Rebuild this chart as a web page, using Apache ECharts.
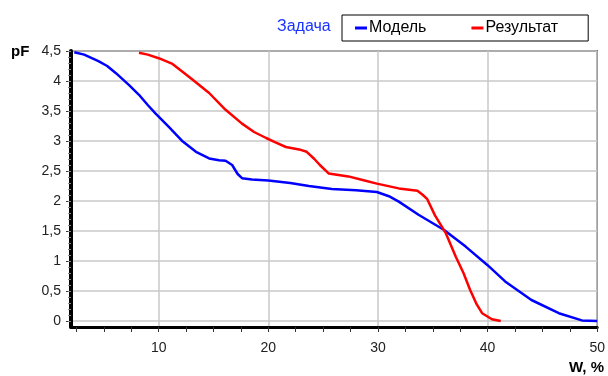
<!DOCTYPE html>
<html>
<head>
<meta charset="utf-8">
<script src="https://cdn.jsdelivr.net/npm/echarts@6/dist/echarts.min.js"></script>
<style>
  html, body { margin: 0; padding: 0; background: #fff; }
  #chart { width: 608px; height: 376px; }
</style>
</head>
<body>
<div id="chart"></div>
<script>
// data
const modelW = [2.3, 3.2, 4.5, 5.3, 6.1, 7.3, 8.2, 9.0, 9.7, 10.9, 12.2, 13.4, 14.6, 15.5, 16.1, 16.7, 17.2, 17.6, 18.5, 20.0, 22.0, 23.7, 25.8, 28.0, 29.9, 31.0, 31.9, 33.7, 36.0, 38.0, 40.0, 41.6, 44.0, 46.5, 48.6, 50.0];
const modelPF = [4.48, 4.44, 4.33, 4.25, 4.13, 3.93, 3.77, 3.6, 3.46, 3.24, 2.99, 2.82, 2.71, 2.68, 2.67, 2.6, 2.45, 2.38, 2.36, 2.34, 2.3, 2.25, 2.2, 2.18, 2.15, 2.08, 1.99, 1.77, 1.52, 1.24, 0.93, 0.66, 0.35, 0.13, 0.01, 0.0];
const resultW = [8.2, 9.0, 10.0, 11.2, 12.2, 13.1, 14.6, 16.1, 17.6, 18.7, 19.8, 20.6, 21.6, 22.8, 23.5, 24.2, 24.7, 25.5, 27.3, 28.6, 29.9, 31.9, 33.6, 34.1, 34.5, 35.2, 36.2, 37.1, 37.8, 38.4, 39.0, 39.5, 40.4, 41.2];
const resultPF = [4.47, 4.44, 4.38, 4.29, 4.15, 4.02, 3.8, 3.52, 3.29, 3.15, 3.05, 2.98, 2.9, 2.86, 2.82, 2.7, 2.6, 2.46, 2.41, 2.35, 2.29, 2.21, 2.17, 2.1, 2.03, 1.76, 1.46, 1.07, 0.8, 0.52, 0.28, 0.13, 0.03, 0.0];

const xLabels = [10, 20, 30, 40, 50];
const xTicks = [2.5, 5, 7.5, 10, 12.5, 15, 17.5, 20, 22.5, 25, 27.5, 30, 32.5, 35, 37.5, 40, 42.5, 45, 47.5, 50];
const yLabels = [0, 0.5, 1, 1.5, 2, 2.5, 3, 3.5, 4, 4.5];
const yMinor = [];
for (let i = 0; i <= 45; i++) yMinor.push(i / 10);

const font = "Liberation Sans, Arial, sans-serif";
const zip = (a, b) => a.map((v, i) => [v, b[i]]);

const chart = echarts.init(document.getElementById("chart"));
chart.setOption({
  animation: false,
  textStyle: { fontFamily: font },
  title: {
    text: "Задача",
    left: 277,
    top: 19,
    padding: 0,
    textStyle: { color: "#1a33ff", fontSize: 16, fontWeight: "normal", fontFamily: font },
  },
  legend: {
    left: 342,
    top: 15,
    padding: [5, 30, 5, 13],
    itemGap: 45,
    itemWidth: 12,
    itemHeight: 3,
    icon: "rect",
    borderColor: "#000",
    borderWidth: 1,
    textStyle: { color: "#000", fontSize: 16, fontFamily: font, padding: [0, 0, 0, -3] },
    data: ["Модель", "Результат"],
  },
  graphic: [
    { type: "text", left: 11, top: 44, style: { text: "pF", font: "bold 15px " + font, fill: "#000" } },
    { type: "text", left: 569, top: 360, style: { text: "W, %", font: "bold 15px " + font, fill: "#000" } },
  ],
  grid: {
    left: 71,
    top: 51,
    right: 10,
    bottom: 49,
    show: true,
    borderColor: "#222",
    borderWidth: 1.5,
  },
  xAxis: [
    {
      type: "value",
      min: 2,
      max: 50,
      axisLine: { show: true, onZero: false, lineStyle: { color: "#000", width: 3 } },
      axisTick: { show: true, customValues: xTicks, length: 5, lineStyle: { color: "#333" } },
      axisLabel: { customValues: xLabels, color: "#222", fontSize: 14, margin: 14, fontFamily: font },
      splitLine: { show: false },
    },
    {
      type: "value",
      min: 2,
      max: 50,
      position: "bottom",
      axisLine: { show: false },
      axisTick: { show: false, customValues: [10, 20, 30, 40, 50] },
      axisLabel: { show: false },
      splitLine: { show: true, lineStyle: { color: "#c8c8c8", width: 1.5 } },
    },
  ],
  yAxis: [
    {
      type: "value",
      min: -0.1,
      max: 4.5,
      axisLine: { show: true, onZero: false, lineStyle: { color: "#000", width: 4 } },
      axisTick: { show: true, customValues: yLabels, length: 5, lineStyle: { color: "#333" } },
      axisLabel: {
        customValues: yLabels,
        color: "#222",
        fontSize: 14,
        margin: 10,
        fontFamily: font,
        formatter: (v) => String(v).replace(".", ","),
      },
      splitLine: { show: true, lineStyle: { color: "#c8c8c8", width: 1.5 } },
    },
    {
      type: "value",
      min: -0.1,
      max: 4.5,
      position: "left",
      axisLine: { show: false },
      axisTick: { show: true, customValues: yMinor, length: 3, lineStyle: { color: "#888" } },
      axisLabel: { show: false },
      splitLine: { show: false },
    },
  ],
  series: [
    {
      name: "Модель",
      type: "line",
      showSymbol: false,
      symbol: "none",
      color: "#0000ff",
      lineStyle: { width: 2.5 },
      data: zip(modelW, modelPF),
    },
    {
      name: "Результат",
      type: "line",
      showSymbol: false,
      symbol: "none",
      color: "#ff0000",
      lineStyle: { width: 2.5 },
      data: zip(resultW, resultPF),
    },
  ],
});
</script>
</body>
</html>
